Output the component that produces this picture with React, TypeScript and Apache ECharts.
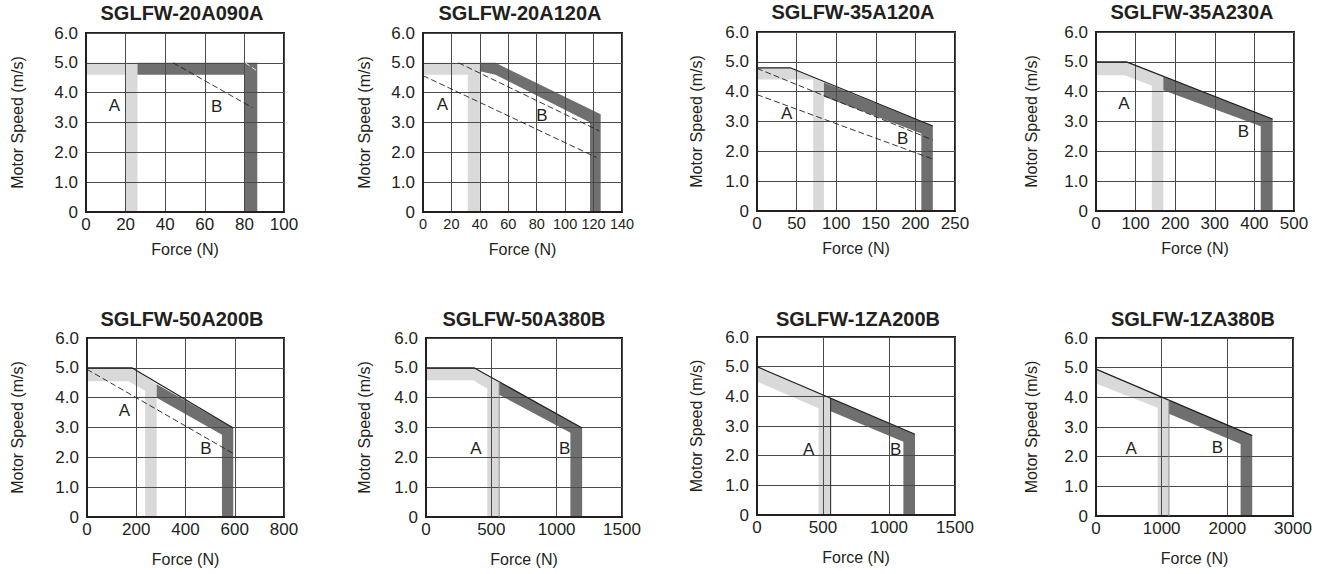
import React, { useEffect, useRef } from "react";
import * as echarts from "echarts";

// ---------- DATA ----------
const titles = [
  "SGLFW-20A090A", "SGLFW-20A120A", "SGLFW-35A120A", "SGLFW-35A230A",
  "SGLFW-50A200B", "SGLFW-50A380B", "SGLFW-1ZA200B", "SGLFW-1ZA380B",
];
const xMaxes = [100, 140, 250, 500, 800, 1500, 1500, 3000];
const xSteps = [20, 20, 50, 100, 200, 500, 500, 1000];
const yMax = 6;
const yStep = 1;

// Region A (light band) outlines: [force, speed]
const bandA1 = [[0, 5], [26, 5], [26, 0], [20, 0], [20, 4.6], [0, 4.6]];
const bandA2 = [[0, 5], [40, 5], [40, 0], [31.5, 0], [31.5, 4.6], [0, 4.6]];
const bandA3 = [[0, 4.8], [42, 4.8], [84.5, 4.31], [84.5, 0], [71, 0], [71, 4.41], [0, 4.41]];
const bandA4 = [[0, 5], [77, 5], [170, 4.5], [170, 0], [141, 0], [141, 4.2], [73, 4.55], [0, 4.55]];
const bandA5 = [[0, 5], [182, 5], [283, 4.45], [283, 0], [236, 0], [236, 4.23], [169, 4.55], [0, 4.55]];
const bandA6 = [[0, 5], [367, 5], [560, 4.55], [560, 0], [469, 0], [469, 4.3], [362, 4.58], [0, 4.58]];
const bandA7 = [[0, 5], [558, 3.94], [558, 0], [466, 0], [466, 3.6], [0, 4.5]];
const bandA8 = [[0, 4.95], [1111, 3.9], [1111, 0], [939, 0], [939, 3.65], [0, 4.47]];

// Region B (dark band) outlines
const bandB1 = [[26, 5], [86.5, 5], [86.5, 0], [80, 0], [80, 4.6], [26, 4.6]];
const bandB2 = [[40, 5], [51, 5], [125, 3.28], [125, 0], [117.5, 0], [117.5, 3.0], [51, 4.6], [40, 4.72]];
const bandB3 = [[84.5, 4.31], [222, 2.85], [222, 0], [207.5, 0], [207.5, 2.6], [84.5, 3.83]];
const bandB4 = [[170, 4.5], [446, 3.08], [446, 0], [416, 0], [416, 2.84], [170, 4.05]];
const bandB5 = [[283, 4.45], [594, 2.98], [594, 0], [548, 0], [548, 2.76], [283, 4.0]];
const bandB6 = [[560, 4.55], [1195, 2.98], [1195, 0], [1105, 0], [1105, 2.82], [560, 4.1]];
const bandB7 = [[558, 3.94], [1197, 2.72], [1197, 0], [1109, 0], [1109, 2.47], [558, 3.5]];
const bandB8 = [[1111, 3.9], [2379, 2.71], [2379, 0], [2202, 0], [2202, 2.43], [1111, 3.45]];

// Thin solid outline along the top of the curves
const outline3 = [[0, 4.8], [42, 4.8], [222, 2.85]];
const outline4 = [[0, 5], [77, 5], [446, 3.08]];
const outline5 = [[0, 5], [182, 5], [594, 2.98]];
const outline6 = [[0, 5], [367, 5], [1195, 2.98]];
const outline7 = [[0, 5], [1197, 2.72]];
const outline8 = [[0, 4.95], [2379, 2.71]];

// Edge lines between A and B
const edge6 = [[560, 0], [560, 4.55]];
const edge7 = [[558, 0], [558, 3.94]];
const edge8 = [[1111, 0], [1111, 3.9]];

// Dashed lines
const dash1 = [[44, 5.0], [84, 3.5]];
const dash1White = [[80.5, 5.0], [87, 4.7]];
const dash2a = [[25, 5.0], [124, 2.72]];
const dash2b = [[0, 4.57], [122, 1.83]];
const dash3a = [[0, 4.78], [222, 2.38]];
const dash3b = [[0, 3.9], [222, 1.74]];
const dash5 = [[0, 4.95], [600, 2.1]];

// Region label positions
const labels1 = [[14.3, 3.56, "A"], [66, 3.53, "B"]];
const labels2 = [[13.6, 3.6, "A"], [83.7, 3.22, "B"]];
const labels3 = [[37.4, 3.27, "A"], [184, 2.43, "B"]];
const labels4 = [[70.7, 3.6, "A"], [372, 2.65, "B"]];
const labels5 = [[152, 3.56, "A"], [483, 2.29, "B"]];
const labels6 = [[382, 2.28, "A"], [1062, 2.31, "B"]];
const labels7 = [[391, 2.22, "A"], [1051, 2.22, "B"]];
const labels8 = [[535, 2.26, "A"], [1848, 2.32, "B"]];

const bandsA = [bandA1, bandA2, bandA3, bandA4, bandA5, bandA6, bandA7, bandA8];
const bandsB = [bandB1, bandB2, bandB3, bandB4, bandB5, bandB6, bandB7, bandB8];
const outlines = [null, null, outline3, outline4, outline5, outline6, outline7, outline8];
const edges = [null, null, null, null, null, edge6, edge7, edge8];
const dashes = [[dash1], [dash2a, dash2b], [dash3a, dash3b], [], [dash5], [], [], []];
const whiteDashes = [[dash1White], [], [], [], [], [], [], []];
const regionLabels = [labels1, labels2, labels3, labels4, labels5, labels6, labels7, labels8];

// ---------- LAYOUT ----------
const grids = [
  { left: 86, top: 33, width: 198, height: 179 },
  { left: 423, top: 33, width: 199, height: 179 },
  { left: 757, top: 32, width: 198, height: 179 },
  { left: 1096, top: 32, width: 198, height: 179 },
  { left: 87, top: 338, width: 197, height: 179 },
  { left: 426, top: 338, width: 196, height: 179 },
  { left: 757, top: 337, width: 198, height: 178 },
  { left: 1096, top: 338, width: 197, height: 178 },
];
const titlePos = [
  { x: 182, y: 3 }, { x: 520, y: 3 }, { x: 853, y: 2 }, { x: 1192, y: 2 },
  { x: 182, y: 309 }, { x: 524, y: 309 }, { x: 858, y: 309 }, { x: 1193, y: 309 },
];
const yNameGaps = [61, 51, 53, 57, 62, 54, 53, 57];
const xNameGaps = [29, 29, 29, 29, 34, 34, 34, 34];
const xLabelSizes = [17, 14.5, 17, 17, 17, 17, 17, 17];

const FONT = "Liberation Sans, Arial, Helvetica, sans-serif";
const INK = "#231f20";
const LIGHT = "#d9d9d9";
const DARK = "#6f6f6f";

function polygonSeries(points: number[][], color: string, idx: number) {
  return {
    type: "custom",
    xAxisIndex: idx,
    yAxisIndex: idx,
    z: 1,
    silent: true,
    data: points,
    clip: true,
    renderItem: (params: any, api: any) => {
      if (params.dataIndex !== 0) return null;
      const pts = points.map((p) => api.coord(p));
      return {
        type: "polygon",
        shape: { points: pts },
        style: { fill: color, stroke: null },
      };
    },
  };
}

function lineSeries(points: number[][], idx: number, style: any, z = 4) {
  return {
    type: "line",
    xAxisIndex: idx,
    yAxisIndex: idx,
    data: points,
    showSymbol: false,
    symbol: "none",
    silent: true,
    z,
    lineStyle: style,
  };
}

function labelSeries(items: any[], idx: number) {
  return {
    type: "custom",
    xAxisIndex: idx,
    yAxisIndex: idx,
    z: 6,
    silent: true,
    data: items,
    renderItem: (params: any, api: any) => {
      const item = items[params.dataIndex];
      const pt = api.coord([item[0], item[1]]);
      return {
        type: "text",
        x: pt[0],
        y: pt[1],
        style: {
          text: item[2],
          fill: INK,
          fontSize: 17,
          fontFamily: FONT,
          align: "center",
          verticalAlign: "middle",
        },
      };
    },
  };
}

export default function App() {
  const ref = useRef<HTMLDivElement>(null);
  useEffect(() => {
    document.body.style.margin = "0";
    if (!ref.current) return;
    const chart = echarts.init(ref.current, null, { renderer: "svg" });

    const series: any[] = [];
    for (let i = 0; i < 8; i++) {
      series.push(polygonSeries(bandsA[i], LIGHT, i));
      series.push(polygonSeries(bandsB[i], DARK, i));
      const ol = outlines[i];
      if (ol) series.push(lineSeries(ol, i, { color: INK, width: 1.2 }));
      const ed = edges[i];
      if (ed) series.push(lineSeries(ed, i, { color: i === 6 ? INK : "#8a8a8a", width: 1 }));
      dashes[i].forEach((d) =>
        series.push(lineSeries(d, i, { color: INK, width: 0.9, type: [6, 3] }))
      );
      whiteDashes[i].forEach((d) =>
        series.push(lineSeries(d, i, { color: "#ffffff", width: 0.9, type: [5, 3] }, 5))
      );
      series.push(labelSeries(regionLabels[i], i));
    }

    const option: any = {
      animation: false,
      backgroundColor: "#ffffff",
      title: titles.map((t, i) => ({
        text: t,
        left: titlePos[i].x,
        top: titlePos[i].y,
        textAlign: "center",
        padding: 0,
        textStyle: { fontSize: 20, fontWeight: "bold", color: INK, fontFamily: FONT },
      })),
      grid: grids.map((g) => ({
        ...g,
        show: true,
        borderColor: INK,
        borderWidth: 2,
        backgroundColor: "transparent",
        containLabel: false,
      })),
      xAxis: grids.map((_, i) => ({
        type: "value",
        gridIndex: i,
        min: 0,
        max: xMaxes[i],
        interval: xSteps[i],
        z: 3,
        name: "Force (N)",
        nameLocation: "middle",
        nameGap: xNameGaps[i],
        nameTextStyle: { fontSize: 16, color: INK, fontFamily: FONT },
        axisLine: { show: true, lineStyle: { color: INK, width: 2 } },
        axisTick: { show: false },
        axisLabel: {
          margin: 4,
          fontSize: xLabelSizes[i],
          color: INK,
          fontFamily: FONT,
          formatter: (v: number) => String(v),
        },
        splitLine: { show: true, lineStyle: { color: "#4a4a4a", width: 1 } },
      })),
      yAxis: grids.map((_, i) => ({
        type: "value",
        gridIndex: i,
        min: 0,
        max: yMax,
        interval: yStep,
        z: 3,
        name: "Motor Speed (m/s)",
        nameLocation: "middle",
        nameGap: yNameGaps[i],
        nameTextStyle: { fontSize: 16, color: INK, fontFamily: FONT },
        axisLine: { show: true, lineStyle: { color: INK, width: 2 } },
        axisTick: { show: false },
        axisLabel: {
          margin: 8,
          fontSize: 17,
          color: INK,
          fontFamily: FONT,
          formatter: (v: number) => (v === 0 ? "0" : v.toFixed(1)),
        },
        splitLine: { show: true, lineStyle: { color: "#4a4a4a", width: 1 } },
      })),
      series,
    };
    chart.setOption(option);
    return () => chart.dispose();
  }, []);
  return <div ref={ref} style={{ width: 1325, height: 574 }} />;
}
